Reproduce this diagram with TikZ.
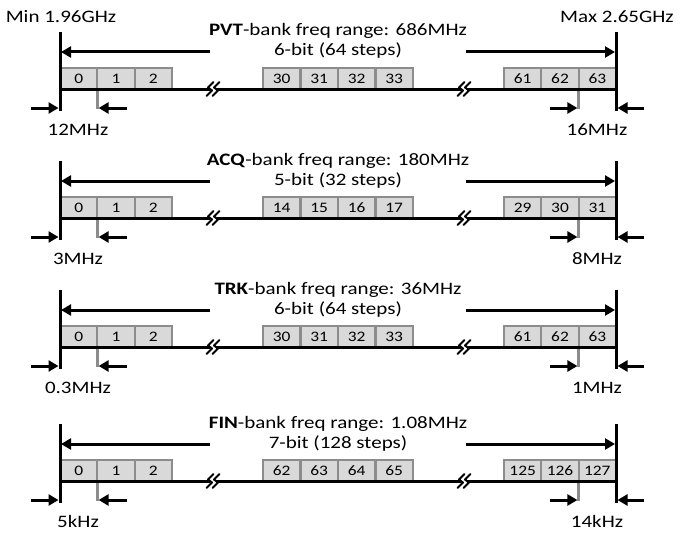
\documentclass[tikz,border=0pt]{standalone}
\usepackage{fontspec}
\setmainfont{Carlito}[FakeStretch=1.2]
\usetikzlibrary{arrows.meta}
\definecolor{cellgray}{HTML}{8C8C8C}
\definecolor{cellfill}{HTML}{D9D9D9}
\tikzset{
  cell/.style={draw=cellgray, fill=cellfill, line width=2pt, minimum width=37.33pt,
    minimum height=21pt, inner sep=0pt, outer sep=0pt, anchor=south west,
    font=\fontsize{14.5}{14.5}\selectfont},
  axis/.style={line width=3pt, black},
  arr/.style={line width=3pt, black, -{Triangle[length=10pt,width=11pt]}},
  tickline/.style={line width=2.5pt, draw=cellgray},
  lbl/.style={font=\fontsize{17.5}{20}\selectfont, inner sep=0pt, anchor=base},
  brk/.style={line width=2pt, black, line join=round, line cap=round}
}
\begin{document}
\begin{tikzpicture}[x=1pt,y=-1pt]
\useasboundingbox (0,0) rectangle (674,535);
\node[lbl] (min) at (61,23) {Min 1.96GHz};
\node[lbl] (max) at (617,23) {Max 2.65GHz};
\foreach \kk/\dy/\nm/\rg/\bt/\mm/\rr/\ls/\rsl in {
  1/0/PVT/686MHz/6-bit (64 steps)/30/61/12MHz/16MHz,
  2/129/ACQ/180MHz/5-bit (32 steps)/14/29/3MHz/8MHz,
  3/258/TRK/36MHz/6-bit (64 steps)/30/61/0.3MHz/1MHz,
  4/392/FIN/1.08MHz/7-bit (128 steps)/62/125/5kHz/14kHz}{
  \begin{scope}[shift={(0,\dy)}]
    % texts
    \node[lbl] (t\kk) at (338,36) {\textbf{\nm}-bank freq range: \rg};
    \node[lbl] (s\kk) at (338,56) {\bt};
    \node[lbl] (ls\kk) at (78,135) {\ls};
    \node[lbl] (rs\kk) at (597,135) {\rsl};
    % cells
    \foreach \j in {0,1,2}
      \node[cell] (ca\kk-\j) at ({60+37.33*\j},89) {\j};
    \foreach \j in {0,...,3}{
      \pgfmathtruncatemacro\lab{\mm+\j}
      \node[cell] (cb\kk-\j) at ({263+37.5*\j},89) {\lab};}
    \foreach \j in {0,1,2}{
      \pgfmathtruncatemacro\lab{\rr+\j}
      \node[cell] (cc\kk-\j) at ({504+37.33*\j},89) {\lab};}
    % gray ticks
    \draw[tickline] (ca\kk-0.south east) -- ++(0,20);
    \draw[tickline] (cc\kk-1.south east) -- ++(0,20);
    % baseline with breaks
    \coordinate (b0-\kk) at (60,89);
    \coordinate (b1-\kk) at (210,89);
    \coordinate (b2-\kk) at (216,89);
    \coordinate (b3-\kk) at (461,89);
    \coordinate (b4-\kk) at (467,89);
    \coordinate (b5-\kk) at (616,89);
    \draw[axis] (b0-\kk) -- (b1-\kk) (b2-\kk) -- (b3-\kk) (b4-\kk) -- (b5-\kk);
    \foreach \c in {b1-\kk,b2-\kk,b3-\kk,b4-\kk}
      \draw[brk,shift={(\c)}] (3.5,-7) -- (-2,-1.5) -- (2,1.5) -- (-3.5,7);
    % verticals
    \coordinate (lt\kk) at (60,32);
    \coordinate (lb\kk) at (60,111);
    \coordinate (rt\kk) at (616,32);
    \coordinate (rb\kk) at (616,111);
    \draw[axis] (lt\kk) -- (lb\kk);
    \draw[axis] (rt\kk) -- (rb\kk);
    % top range arrows
    \coordinate (al\kk) at (210,52);
    \coordinate (ml\kk) at (61,52);
    \coordinate (ar\kk) at (466,52);
    \coordinate (mr\kk) at (615,52);
    \draw[arr] (al\kk) -- (ml\kk);
    \draw[arr] (ar\kk) -- (mr\kk);
    % step arrows
    \coordinate (p1\kk) at (31,108);
    \coordinate (q1\kk) at (58.5,108);
    \coordinate (p2\kk) at (127,108);
    \coordinate (q2\kk) at (98.6,108);
    \coordinate (p3\kk) at (550,108);
    \coordinate (q3\kk) at (577.4,108);
    \coordinate (p4\kk) at (644,108);
    \coordinate (q4\kk) at (617.5,108);
    \draw[arr] (p1\kk) -- (q1\kk);
    \draw[arr] (p2\kk) -- (q2\kk);
    \draw[arr] (p3\kk) -- (q3\kk);
    \draw[arr] (p4\kk) -- (q4\kk);
  \end{scope}
}
\end{tikzpicture}
\end{document}
